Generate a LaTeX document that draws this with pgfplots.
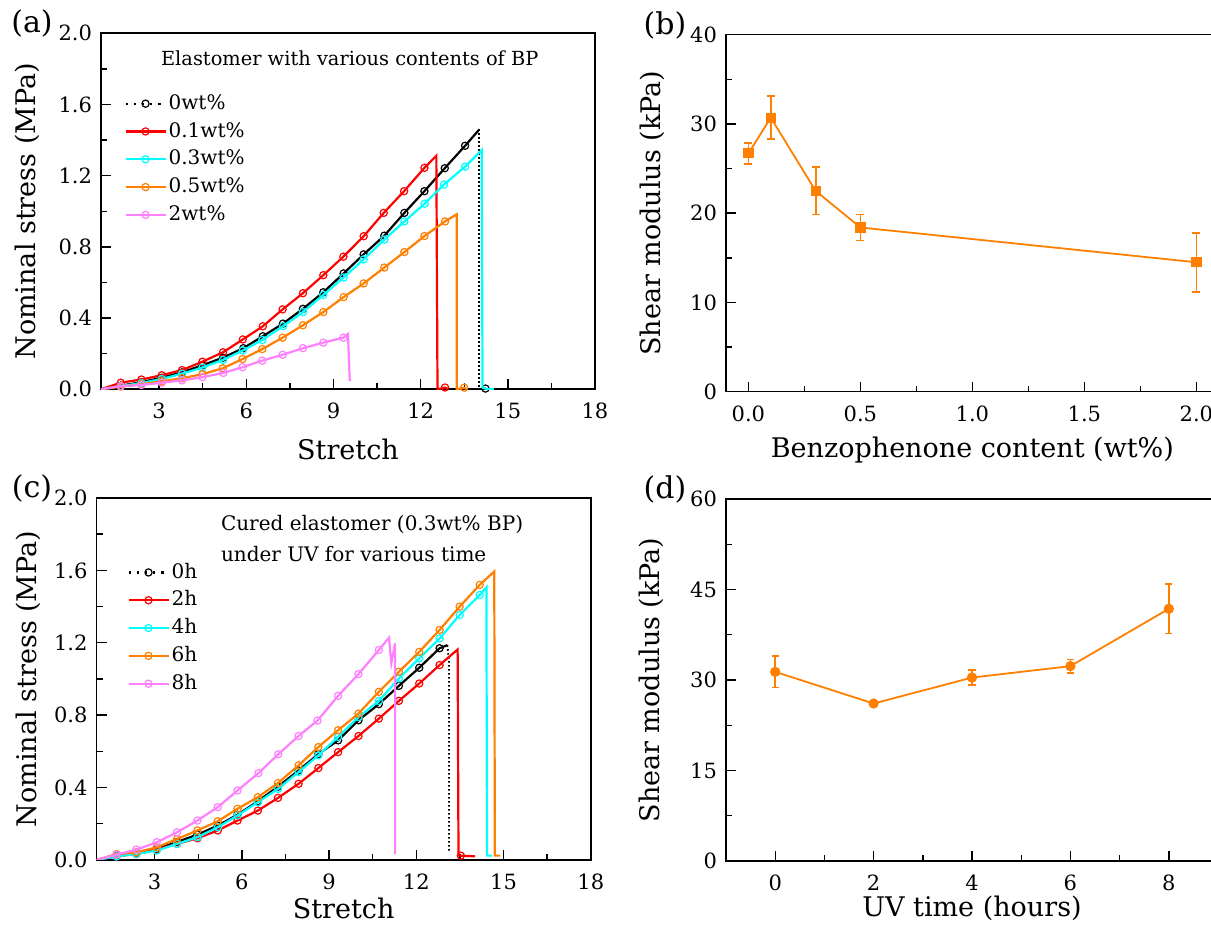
\documentclass[border=0pt]{standalone}
\usepackage{fontspec}
\setmainfont{DejaVu Serif}
\usepackage{pgfplots}
\pgfplotsset{compat=1.18}

\definecolor{cOr}{RGB}{255,128,0}
\definecolor{cPk}{RGB}{255,128,255}
\definecolor{cCy}{RGB}{0,255,255}
\definecolor{cRd}{RGB}{255,0,0}

\newcommand{\labfont}{\fontsize{13.5}{15}\selectfont}

\pgfplotsset{
  panel/.style={
    scale only axis,
    axis line style={line width=0.8pt},
    tick align=inside, tick pos=left,
    major tick length=5pt, minor tick length=3pt,
    every tick/.style={black, line width=0.7pt},
    /pgf/number format/assume math mode=true,
    tick label style={font=\fontsize{10.5}{12}\selectfont},
    xticklabel style={yshift=-3.5pt},
    yticklabel style={xshift=-1pt},
    clip mode=individual,
  },
  xlab/.style={every axis x label/.style={at={(rel axis cs:0.5,0)}, yshift=-#1, anchor=center, font=\labfont}},
  ylab/.style={every axis y label/.style={at={(rel axis cs:0,0.5)}, xshift=-#1, rotate=90, anchor=center, font=\labfont}},
  curve/.style={line width=1.1pt, mark=o, mark size=1.8pt,
    mark options={solid, fill=white, line width=0.6pt}, forget plot},
  drop/.style={line width=0.9pt, dash pattern=on 0.8pt off 1.2pt, forget plot},
  legend image code/.code={\draw[mark repeat=2,mark phase=2,#1]
    plot coordinates {(0pt,0pt) (10pt,0pt) (20pt,0pt)};},
  curvelegend/.style={legend cell align=left,
    legend style={draw=none, fill=none, inner sep=0pt, row sep=3.9pt,
      font=\fontsize{10}{12}\selectfont,
      nodes={inner sep=1pt, text height=6.8pt, text depth=1.2pt},
      anchor=north west}},
}

\begin{document}
\begin{tikzpicture}

% ---------------- (a)
\begin{axis}[panel, at={(50.5pt,267.85pt)}, anchor=south west,
  width=247pt, height=178pt,
  xmin=1, xmax=18, ymin=0, ymax=2,
  xtick={3,6,...,18}, ytick={0,0.4,...,2.0},
  minor x tick num=1, minor y tick num=1,
  yticklabel style={/pgf/number format/.cd, fixed, fixed zerofill, precision=1},
  xlab=30pt, ylab=37pt,
  xlabel={Stretch}, ylabel={Nominal stress (MPa)},
  curvelegend, legend style={at={(0.0466,0.8315)}},
]
\addlegendimage{black, line width=1.1pt, dash pattern=on 1.1pt off 3pt, mark=o, mark size=1.8pt, mark options={solid,fill=white,line width=0.6pt}}
\addlegendentry{0wt\%}
\addlegendimage{cRd, line width=1.1pt, mark=o, mark size=1.8pt, mark options={fill=white,line width=0.6pt}}
\addlegendentry{0.1wt\%}
\addlegendimage{cCy, line width=1.1pt, mark=o, mark size=1.8pt, mark options={fill=white,line width=0.6pt}}
\addlegendentry{0.3wt\%}
\addlegendimage{cOr, line width=1.1pt, mark=o, mark size=1.8pt, mark options={fill=white,line width=0.6pt}}
\addlegendentry{0.5wt\%}
\addlegendimage{cPk, line width=1.1pt, mark=o, mark size=1.8pt, mark options={fill=white,line width=0.6pt}}
\addlegendentry{2wt\%}

% 0wt%
\addplot[curve, black, mark indices={2,...,19}] coordinates {
 (1.0,0.0) (1.68,0.02) (2.39,0.04) (3.09,0.065) (3.79,0.095) (4.49,0.135)
 (5.20,0.178) (5.90,0.231) (6.57,0.298) (7.26,0.369) (7.95,0.452) (8.65,0.545)
 (9.35,0.651) (10.04,0.758) (10.75,0.863) (11.44,0.991) (12.13,1.113)
 (12.83,1.242) (13.53,1.368) (14.02,1.460)
};
\addplot[drop, black] coordinates {(14.02,1.460) (14.02,0.0)};
\addplot[curve, black, mark indices={2}] coordinates {(14.02,0.0) (14.23,0.004)};
% 0.1wt%
\addplot[curve, cRd, mark indices={2,...,17,20}] coordinates {
 (1.0,0.0) (1.68,0.037) (2.39,0.055) (3.09,0.079) (3.79,0.108) (4.49,0.155)
 (5.20,0.208) (5.88,0.280) (6.57,0.354) (7.25,0.449) (7.95,0.540) (8.65,0.641)
 (9.34,0.745) (10.04,0.860) (10.73,0.991) (11.43,1.113) (12.13,1.244)
 (12.54,1.312) (12.58,0.0) (12.84,0.01) (12.95,0.0)
};
% 0.3wt%
\addplot[curve, cCy, mark indices={2,...,19}] coordinates {
 (1.0,0.0) (1.68,0.018) (2.39,0.035) (3.09,0.058) (3.79,0.088) (4.49,0.122)
 (5.20,0.165) (5.88,0.218) (6.55,0.277) (7.27,0.355) (7.95,0.434) (8.65,0.530)
 (9.35,0.628) (10.04,0.730) (10.75,0.841) (11.44,0.943) (12.14,1.043)
 (12.80,1.150) (13.53,1.251) (14.10,1.344) (14.13,0.01) (14.30,0.0) (14.52,0.0)
};
% 0.5wt%
\addplot[curve, cOr, mark indices={2,...,18,21}] coordinates {
 (1.0,0.0) (1.68,0.015) (2.39,0.028) (3.09,0.045) (3.79,0.062) (4.49,0.085)
 (5.19,0.118) (5.87,0.170) (6.55,0.226) (7.25,0.290) (7.95,0.360) (8.65,0.434)
 (9.35,0.518) (10.04,0.595) (10.75,0.684) (11.44,0.771) (12.13,0.861)
 (12.84,0.943) (13.24,0.983) (13.24,0.0) (13.50,0.009) (13.60,0.0)
};
% 2wt%
\addplot[curve, cPk, mark indices={2,...,13}] coordinates {
 (1.0,0.0) (1.68,0.018) (2.39,0.024) (3.09,0.037) (3.79,0.050) (4.49,0.068)
 (5.21,0.092) (5.87,0.124) (6.55,0.161) (7.25,0.194) (7.95,0.231) (8.65,0.262)
 (9.34,0.290) (9.50,0.311) (9.56,0.046)
};
\node[font=\fontsize{9.7}{11}\selectfont] at (axis cs:9.56,1.86) {Elastomer with various contents of BP};
\end{axis}

% ---------------- (b)
\begin{axis}[panel, at={(363pt,266.65pt)}, anchor=south west,
  width=246.4pt, height=178.5pt,
  xmin=-0.1, xmax=2.1, ymin=0, ymax=40,
  xtick={0,0.5,...,2.0}, ytick={0,10,...,40},
  minor x tick num=1, minor y tick num=1,
  xticklabel style={/pgf/number format/.cd, fixed, fixed zerofill, precision=1},
  xlab=29.2pt, ylab=36.75pt,
  xlabel={Benzophenone content (wt\%)}, ylabel={Shear modulus (kPa)},
]
\addplot[cOr, line width=0.9pt, mark=square*, mark size=2.1pt,
  error bars/.cd, y dir=both, y explicit,
  error bar style={line width=0.9pt},
  error mark options={rotate=90, mark size=2pt, line width=0.9pt}]
coordinates {
 (0,26.7) +- (0,1.2)
 (0.1,30.7) +- (0,2.4)
 (0.3,22.5) +- (0,2.65)
 (0.5,18.4) +- (0,1.45)
 (2.0,14.5) +- (0,3.3)
};
\end{axis}

% ---------------- (c)
\begin{axis}[panel, at={(48.25pt,32.5pt)}, anchor=south west,
  width=247.15pt, height=181pt,
  xmin=1, xmax=18, ymin=0, ymax=2,
  xtick={3,6,...,18}, ytick={0,0.4,...,2.0},
  minor x tick num=1, minor y tick num=1,
  yticklabel style={/pgf/number format/.cd, fixed, fixed zerofill, precision=1},
  xlab=24pt, ylab=34pt,
  xlabel={Stretch}, ylabel={Nominal stress (MPa)},
  curvelegend, legend style={at={(0.0617,0.823)}},
]
\addlegendimage{black, line width=1.1pt, dash pattern=on 1.1pt off 3pt, mark=o, mark size=1.8pt, mark options={solid,fill=white,line width=0.6pt}}
\addlegendentry{0h}
\addlegendimage{cRd, line width=1.1pt, mark=o, mark size=1.8pt, mark options={fill=white,line width=0.6pt}}
\addlegendentry{2h}
\addlegendimage{cCy, line width=1.1pt, mark=o, mark size=1.8pt, mark options={fill=white,line width=0.6pt}}
\addlegendentry{4h}
\addlegendimage{cOr, line width=1.1pt, mark=o, mark size=1.8pt, mark options={fill=white,line width=0.6pt}}
\addlegendentry{6h}
\addlegendimage{cPk, line width=1.1pt, mark=o, mark size=1.8pt, mark options={fill=white,line width=0.6pt}}
\addlegendentry{8h}

% 0h
\addplot[curve, black, mark indices={2,...,18}] coordinates {
 (1.0,0.0) (1.69,0.022) (2.37,0.040) (3.07,0.060) (3.77,0.100) (4.47,0.140)
 (5.17,0.190) (5.85,0.250) (6.55,0.325) (7.24,0.405) (7.95,0.495) (8.63,0.585)
 (9.31,0.661) (10.01,0.772) (10.71,0.861) (11.40,0.962) (12.10,1.062)
 (12.80,1.170) (13.07,1.187)
};
\addplot[drop, black] coordinates {(13.07,1.187) (13.12,1.10) (13.12,0.05)};
% 2h
\addplot[curve, cRd, mark indices={2,...,18,21}] coordinates {
 (1.0,0.0) (1.69,0.020) (2.37,0.033) (3.07,0.057) (3.77,0.089) (4.47,0.120)
 (5.17,0.163) (5.85,0.218) (6.55,0.273) (7.24,0.343) (7.95,0.421) (8.63,0.508)
 (9.31,0.596) (10.01,0.685) (10.71,0.781) (11.40,0.879) (12.10,0.975)
 (12.80,1.077) (13.42,1.163) (13.45,0.024) (13.53,0.024) (14.02,0.020)
};
% 4h
\addplot[curve, cCy, mark indices={2,...,20}] coordinates {
 (1.0,0.0) (1.69,0.020) (2.37,0.033) (3.07,0.052) (3.77,0.089) (4.47,0.126)
 (5.17,0.181) (5.85,0.246) (6.55,0.319) (7.24,0.393) (7.95,0.486) (8.63,0.578)
 (9.31,0.680) (10.01,0.790) (10.71,0.879) (11.40,1.003) (12.10,1.114)
 (12.80,1.224) (13.49,1.354) (14.18,1.464) (14.41,1.507) (14.43,0.024) (14.61,0.024)
};
% 6h
\addplot[curve, cOr, mark indices={2,...,20}] coordinates {
 (1.0,0.0) (1.69,0.033) (2.37,0.042) (3.07,0.070) (3.77,0.116) (4.47,0.163)
 (5.17,0.214) (5.85,0.283) (6.55,0.347) (7.24,0.425) (7.95,0.523) (8.63,0.624)
 (9.31,0.717) (10.01,0.809) (10.71,0.929) (11.40,1.040) (12.10,1.150)
 (12.80,1.271) (13.49,1.400) (14.18,1.520) (14.68,1.594) (14.70,0.024) (14.88,0.024)
};
% 8h
\addplot[curve, cPk, mark indices={2,...,15}] coordinates {
 (1.0,0.0) (1.69,0.030) (2.37,0.057) (3.07,0.098) (3.77,0.153) (4.47,0.218)
 (5.17,0.292) (5.85,0.384) (6.57,0.480) (7.25,0.584) (7.95,0.685) (8.60,0.770)
 (9.31,0.907) (10.01,1.027) (10.71,1.160) (11.06,1.228) (11.14,1.086)
 (11.27,1.197) (11.27,0.033)
};
\node[font=\fontsize{10}{11}\selectfont, anchor=west] at (axis cs:5.04,1.851) {Cured elastomer (0.3wt\% BP)};
\node[font=\fontsize{10}{11}\selectfont, anchor=west] at (axis cs:5.04,1.693) {under UV for various time};
\end{axis}

% ---------------- (d)
\begin{axis}[panel, at={(363pt,32pt)}, anchor=south west,
  width=246pt, height=181pt,
  xmin=-1, xmax=9, ymin=0, ymax=60,
  xtick={0,2,...,8}, ytick={0,15,...,60},
  minor x tick num=1, minor y tick num=1,
  xlab=23.5pt, ylab=37.5pt,
  xlabel={UV time (hours)}, ylabel={Shear modulus (kPa)},
]
\addplot[cOr, line width=0.9pt, mark=*, mark size=2.1pt,
  error bars/.cd, y dir=both, y explicit,
  error bar style={line width=0.9pt},
  error mark options={rotate=90, mark size=1.8pt, line width=0.9pt}]
coordinates {
 (0,31.35) +- (0,2.6)
 (2,26.1) +- (0,0.5)
 (4,30.4) +- (0,1.2)
 (6,32.3) +- (0,1.1)
 (8,41.8) +- (0,4.1)
};
\end{axis}

\node[font=\fontsize{15}{17}\selectfont] at (16pt,451pt) {(a)};
\node[font=\fontsize{15}{17}\selectfont] at (332.5pt,450pt) {(b)};
\node[font=\fontsize{15}{17}\selectfont] at (16pt,218.5pt) {(c)};
\node[font=\fontsize{15}{17}\selectfont] at (332.5pt,218pt) {(d)};

\pgfresetboundingbox
\path[use as bounding box] (0pt,0pt) rectangle (605.5pt,462.5pt);
\end{tikzpicture}
\end{document}
